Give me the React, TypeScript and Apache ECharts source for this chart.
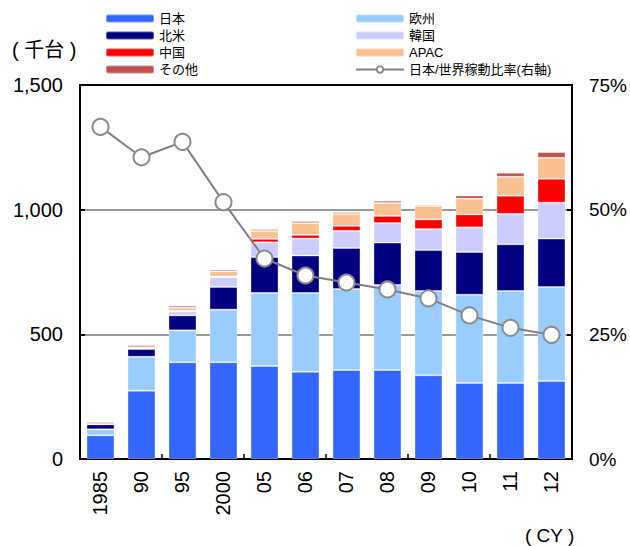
import React, { useEffect, useRef } from "react";
import * as echarts from "echarts";

const categories = ["1985", "90", "95", "2000", "05", "06", "07", "08", "09", "10", "11", "12"];

// Production by region (thousand units)
const japan = [95, 274, 388, 388, 373, 350, 357, 357, 336, 305, 305, 313];
const europe = [24, 136, 128, 211, 293, 316, 325, 341, 338, 354, 369, 377];
const northAmerica = [20, 31, 60, 91, 144, 150, 164, 170, 164, 171, 187, 194];
const korea = [0, 3, 16, 39, 59, 68, 69, 78, 84, 99, 122, 144];
const china = [0, 0, 2, 3, 14, 15, 20, 29, 39, 52, 73, 96];
const apac = [2, 4, 13, 21, 32, 47, 48, 52, 54, 63, 76, 84];
const others = [7, 8, 8, 7, 7, 8, 7, 9, 5, 13, 16, 23];

// Japan's share of world operating units (%), right axis
const japanShare = [66.6, 60.5, 63.6, 51.5, 40.2, 36.8, 35.4, 34.0, 32.2, 28.8, 26.3, 24.9];

const leftTicks = [0, 500, 1000, 1500];
const rightTicks = [0, 25, 50, 75];

const FONT = "'Liberation Sans', Arial, 'Noto Sans CJK JP', sans-serif";

const barSeries = [
  { name: "日本", data: japan, color: "#3366FF" },
  { name: "欧州", data: europe, color: "#99CCFF" },
  { name: "北米", data: northAmerica, color: "#000080" },
  { name: "韓国", data: korea, color: "#CCCCFF" },
  { name: "中国", data: china, color: "#FF0000" },
  { name: "APAC", data: apac, color: "#FAC090" },
  { name: "その他", data: others, color: "#C0504D" },
];

const lineName = "日本/世界稼動比率(右軸)";

export default function App() {
  const ref = useRef<HTMLDivElement>(null);

  useEffect(() => {
    if (!ref.current) return;
    const chart = echarts.init(ref.current, undefined, { renderer: "svg" });

    const legendCommon = {
      orient: "vertical" as const,
      top: 11,
      padding: 0,
      itemWidth: 48,
      itemHeight: 8,
      itemGap: 2,
      selectedMode: false,
      textStyle: { fontFamily: FONT, fontSize: 13, color: "#000", lineHeight: 15, padding: [0, 0, 0, 0] },
    };

    chart.setOption({
      animation: false,
      textStyle: { fontFamily: FONT },
      grid: {
        left: 80,
        top: 85,
        width: 494,
        height: 374,
        show: true,
        borderColor: "#000",
        borderWidth: 2,
        containLabel: false,
      },
      legend: [
        { ...legendCommon, left: 105, data: ["日本", "北米", "中国", "その他"] },
        { ...legendCommon, left: 355, data: ["欧州", "韓国", "APAC", lineName] },
      ],
      xAxis: {
        type: "category",
        data: categories,
        boundaryGap: true,
        axisLine: { show: true, lineStyle: { color: "#000", width: 2 } },
        axisTick: {
          show: true,
          inside: true,
          length: 5,
          lineStyle: { color: "#000", width: 1.5 },
          interval: (i: number) => i > 0 && i % 2 === 0 && i < categories.length,
        },
        axisLabel: {
          rotate: 90,
          margin: 12,
          fontSize: 20,
          color: "#000",
          fontFamily: FONT,
          interval: 0,
        },
      },
      yAxis: [
        {
          type: "value",
          min: leftTicks[0],
          max: leftTicks[leftTicks.length - 1],
          interval: 500,
          axisLine: { show: true, lineStyle: { color: "#000", width: 2 } },
          axisTick: { show: true, inside: true, length: 5, lineStyle: { color: "#000", width: 2 } },
          axisLabel: {
            margin: 17,
            fontSize: 20,
            color: "#000",
            fontFamily: FONT,
            formatter: (v: number) => v.toLocaleString("en-US"),
          },
          splitLine: {
            show: true,
            showMinLine: false,
            showMaxLine: false,
            lineStyle: { color: "#999999", width: 2 },
          },
        },
        {
          type: "value",
          min: rightTicks[0],
          max: rightTicks[rightTicks.length - 1],
          interval: 25,
          position: "right",
          axisLine: { show: true, lineStyle: { color: "#000", width: 2 } },
          axisTick: { show: true, inside: true, length: 5, lineStyle: { color: "#000", width: 2 } },
          axisLabel: {
            margin: 17,
            fontSize: 19,
            color: "#000",
            fontFamily: FONT,
            formatter: "{value}%",
          },
          splitLine: { show: false },
        },
      ],
      series: [
        ...barSeries.map((s) => ({
          name: s.name,
          type: "bar",
          stack: "total",
          barWidth: 28,
          data: s.data,
          itemStyle: {
            color: s.color,
            borderColor: "rgba(255,255,255,0.35)",
            borderWidth: 1,
          },
        })),
        {
          name: lineName,
          type: "line",
          yAxisIndex: 1,
          data: japanShare,
          symbol: "circle",
          symbolSize: 16,
          lineStyle: { color: "#808080", width: 2 },
          itemStyle: { color: "#FFFFFF", borderColor: "#8C8C8C", borderWidth: 2 },
          z: 5,
        },
      ],
      graphic: [
        {
          type: "text",
          left: 12,
          top: 40,
          style: { text: "( 千台 )", fontSize: 20, fill: "#000", fontFamily: FONT },
        },
        {
          type: "text",
          left: 525,
          top: 526,
          style: { text: "( CY )", fontSize: 19, fill: "#000", fontFamily: FONT },
        },
      ],
    });

    return () => chart.dispose();
  }, []);

  return (
    <div
      ref={ref}
      style={{ position: "fixed", left: 0, top: 0, width: 630, height: 546, background: "#fff" }}
    />
  );
}
